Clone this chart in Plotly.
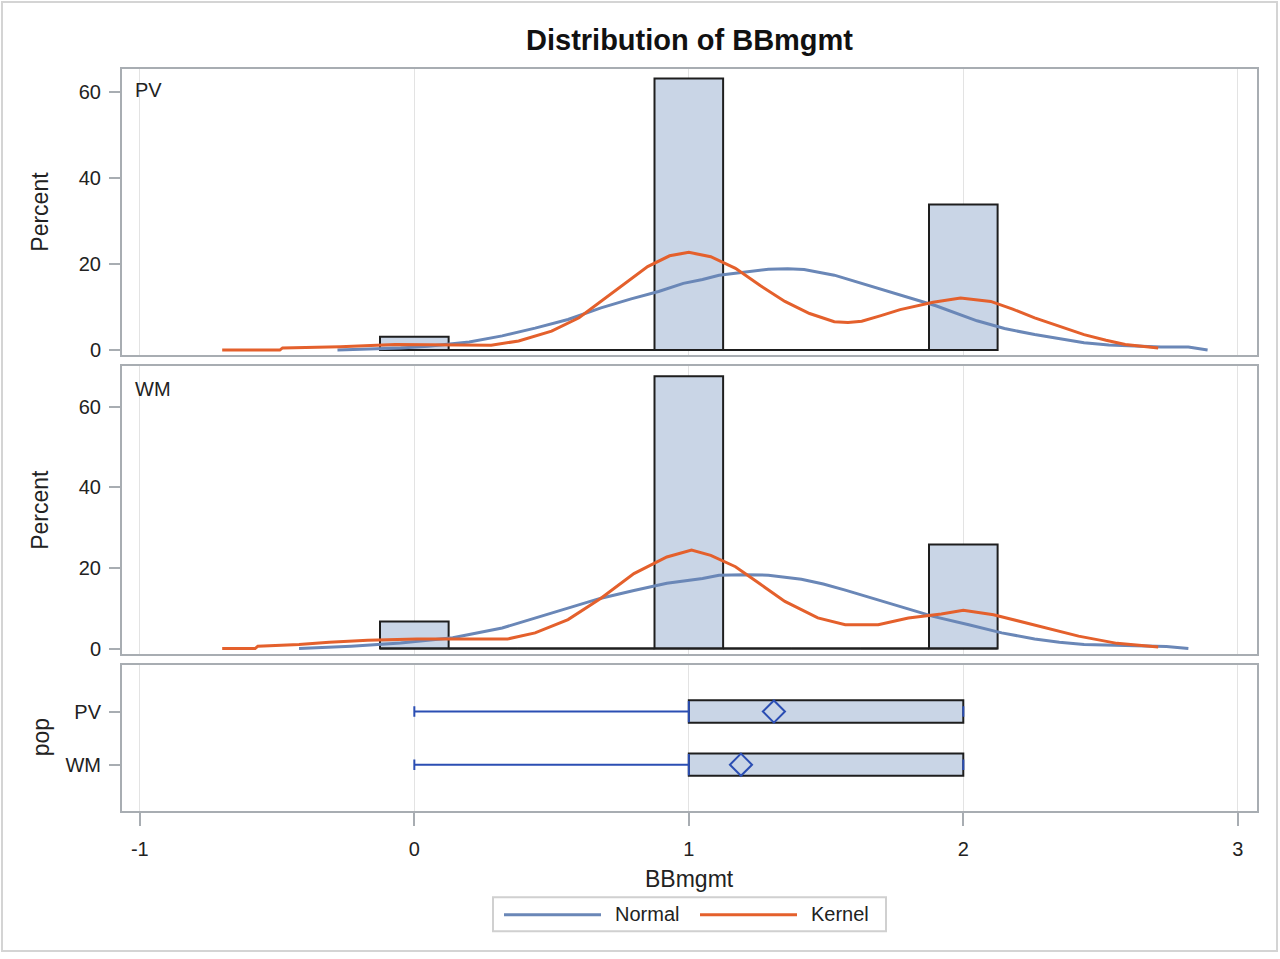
import plotly.graph_objects as go

# ---------------- data ----------------
bin_mid = [0, 0.25, 0.5, 0.75, 1, 1.25, 1.5, 1.75, 2]
bin_width = 0.25
pv_pct = [3.1, 0, 0, 0, 63.1, 0, 0, 0, 33.8]
wm_pct = [6.7, 0, 0, 0, 67.5, 0, 0, 0, 25.8]

pv_normal_x = [-0.28, -0.15, -0.05, 0.05, 0.20, 0.32, 0.44, 0.56, 0.68, 0.79, 0.89, 0.98,
               1.05, 1.11, 1.17, 1.23, 1.29, 1.36, 1.42, 1.53, 1.65, 1.77, 1.90, 2.05,
               2.15, 2.26, 2.35, 2.44, 2.53, 2.62, 2.72, 2.82, 2.89]
pv_normal_y = [0.0, 0.2, 0.5, 0.9, 1.9, 3.3, 5.1, 7.1, 9.8, 11.9, 13.6, 15.5,
               16.4, 17.4, 17.9, 18.4, 18.8, 18.9, 18.7, 17.4, 15.1, 12.8, 10.3, 6.8,
               5.0, 3.6, 2.6, 1.7, 1.2, 0.9, 0.7, 0.7, 0.0]

pv_kernel_x = [-0.70, -0.49, -0.48, -0.27, -0.07, 0.14, 0.28, 0.38, 0.50, 0.60, 0.73, 0.85,
               0.93, 1.00, 1.08, 1.17, 1.26, 1.35, 1.44, 1.53, 1.58, 1.63, 1.70, 1.77,
               1.89, 1.99, 2.10, 2.18, 2.26, 2.35, 2.44, 2.52, 2.59, 2.71]
pv_kernel_y = [0.0, 0.0, 0.5, 0.8, 1.3, 1.3, 1.15, 2.1, 4.4, 7.5, 13.6, 19.4,
               21.9, 22.7, 21.7, 19.0, 15.0, 11.3, 8.5, 6.6, 6.4, 6.7, 8.0, 9.4,
               11.1, 12.1, 11.3, 9.5, 7.5, 5.5, 3.6, 2.3, 1.3, 0.5]

wm_normal_x = [-0.42, -0.23, -0.05, 0.14, 0.32, 0.44, 0.56, 0.68, 0.80, 0.92, 1.05, 1.11,
               1.20, 1.29, 1.41, 1.49, 1.57, 1.65, 1.77, 1.89, 2.02, 2.14, 2.26, 2.35,
               2.44, 2.53, 2.62, 2.74, 2.82]
wm_normal_y = [0.0, 0.6, 1.4, 2.7, 5.1, 7.6, 10.0, 12.5, 14.4, 16.2, 17.4, 18.2,
               18.3, 18.2, 17.2, 16.0, 14.5, 12.9, 10.4, 8.0, 5.9, 3.9, 2.4, 1.6,
               1.0, 0.8, 0.6, 0.5, 0.0]

wm_kernel_x = [-0.70, -0.58, -0.57, -0.42, -0.31, -0.17, 0.01, 0.20, 0.34, 0.44, 0.56, 0.68,
               0.80, 0.92, 1.01, 1.08, 1.17, 1.26, 1.35, 1.47, 1.57, 1.69, 1.80, 1.92,
               2.00, 2.11, 2.26, 2.42, 2.56, 2.71]
wm_kernel_y = [0.0, 0.0, 0.6, 1.0, 1.6, 2.1, 2.4, 2.4, 2.4, 3.9, 7.2, 12.5,
               18.6, 22.7, 24.4, 23.1, 20.3, 16.0, 11.7, 7.6, 5.9, 5.9, 7.6, 8.6,
               9.5, 8.4, 5.9, 3.1, 1.3, 0.4]

# box plot summary per population
pops = ["PV", "WM"]
pop_pos = [1, 0]
box_min = [0, 0]
box_q1 = [1, 1]
box_median = [1, 1]
box_q3 = [2, 2]
box_max = [2, 2]
box_mean = [1.31, 1.19]

x_ticks = [-1, 0, 1, 2, 3]
x_tick_text = ["-1", "0", "1", "2", "3"]
pct_ticks = [0, 20, 40, 60]

# ---------------- styles ----------------
FONT = "Liberation Sans, Arial, sans-serif"
TXT = "#222222"
FRAME = "#A8ADB2"
GRID = "#E3E3E3"
BAR_FILL = "#C9D5E6"
OUTLINE = "#1E1E1E"
NORMAL_C = "#6A87B7"
KERNEL_C = "#E4602C"
BOX_BLUE = "#2B4EB3"

W, H = 1280, 959
def py(px):
    return 1 - px / H

x_dom = [122 / W, 1257 / W]
x_range = [-1.065, 3.07]

fig = go.Figure()

def add_hist(pct, nx, ny, kx, ky, xa, ya):
    fig.add_trace(go.Bar(x=bin_mid, y=pct, width=[bin_width] * len(bin_mid),
                         marker=dict(color=BAR_FILL, line=dict(color=OUTLINE, width=2)),
                         xaxis=xa, yaxis=ya, showlegend=False, hoverinfo="x+y"))
    # outline of the empty bins along the baseline
    fig.add_trace(go.Scatter(x=[bin_mid[0] - bin_width / 2, bin_mid[-1] + bin_width / 2], y=[0, 0],
                             mode="lines", line=dict(color=OUTLINE, width=2),
                             xaxis=xa, yaxis=ya, showlegend=False, hoverinfo="skip"))
    fig.add_trace(go.Scatter(x=nx, y=ny, mode="lines", name="Normal",
                             line=dict(color=NORMAL_C, width=3),
                             xaxis=xa, yaxis=ya, showlegend=False))
    fig.add_trace(go.Scatter(x=kx, y=ky, mode="lines", name="Kernel",
                             line=dict(color=KERNEL_C, width=3),
                             xaxis=xa, yaxis=ya, showlegend=False))

add_hist(pv_pct, pv_normal_x, pv_normal_y, pv_kernel_x, pv_kernel_y, "x", "y")
add_hist(wm_pct, wm_normal_x, wm_normal_y, wm_kernel_x, wm_kernel_y, "x2", "y2")

# ---- box plot panel ----
cap = 0.1
wx, wy = [], []
for lo, q1, q3, hi, p in zip(box_min, box_q1, box_q3, box_max, pop_pos):
    wx += [lo, q1, None, lo, lo, None, q3, hi, None, hi, hi, None]
    wy += [p, p, None, p - cap, p + cap, None, p, p, None, p - cap, p + cap, None]
fig.add_trace(go.Bar(y=pop_pos, x=[b - a for a, b in zip(box_q1, box_q3)], base=box_q1,
                     orientation="h", width=0.42,
                     marker=dict(color=BAR_FILL, line=dict(color=OUTLINE, width=2)),
                     xaxis="x3", yaxis="y3", showlegend=False))
fig.add_trace(go.Scatter(x=wx, y=wy, mode="lines", line=dict(color=BOX_BLUE, width=2),
                         xaxis="x3", yaxis="y3", showlegend=False, hoverinfo="skip"))
mx, my = [], []
for m, p in zip(box_median, pop_pos):
    mx += [m, m, None]
    my += [p - 0.2, p + 0.2, None]
fig.add_trace(go.Scatter(x=mx, y=my, mode="lines", line=dict(color=BOX_BLUE, width=2),
                         xaxis="x3", yaxis="y3", showlegend=False, hoverinfo="skip"))
fig.add_trace(go.Scatter(x=box_mean, y=pop_pos, mode="markers",
                         marker=dict(symbol="diamond-open", size=17, color=BOX_BLUE,
                                     line=dict(width=2, color=BOX_BLUE)),
                         xaxis="x3", yaxis="y3", showlegend=False))

# ---------------- axes ----------------
xcommon = dict(range=x_range, domain=x_dom, tickvals=x_ticks, ticktext=x_tick_text,
               showgrid=True, gridcolor=GRID, gridwidth=1, zeroline=False, showline=True,
               linecolor=FRAME, linewidth=2, mirror=True)
ycommon = dict(showgrid=False, zeroline=False, showline=True, linecolor=FRAME, linewidth=2,
               mirror=True, ticks="outside", ticklen=11, tickcolor=FRAME, tickwidth=2,
               tickfont=dict(family=FONT, size=20, color=TXT), ticklabelstandoff=4)

fig.update_layout(
    width=W, height=H, autosize=False,
    margin=dict(l=0, r=0, t=0, b=0),
    paper_bgcolor="white", plot_bgcolor="white",
    barmode="overlay",
    font=dict(family=FONT, color=TXT),
    xaxis=dict(**xcommon, anchor="y", showticklabels=False),
    xaxis2=dict(**xcommon, anchor="y2", matches="x", showticklabels=False),
    xaxis3=dict(**xcommon, anchor="y3", matches="x", ticks="outside", ticklen=13,
                tickcolor=FRAME, tickwidth=2, ticklabelstandoff=6,
                tickfont=dict(family=FONT, size=20, color=TXT)),
    yaxis=dict(**ycommon, anchor="x", domain=[py(357.7), py(69)], range=[-1.25, 65.4],
               tickvals=pct_ticks),
    yaxis2=dict(**ycommon, anchor="x2", domain=[py(658.3), py(368.5)], range=[-1.38, 70.0],
                tickvals=pct_ticks),
    yaxis3=dict(**ycommon, anchor="x3", domain=[py(816), py(669)], range=[-0.869, 1.879],
                tickvals=pop_pos, ticktext=pops),
)

def note(text, xpx, ypx, size, xanchor="center", angle=0, color=TXT):
    return dict(text=text, x=xpx / W, y=py(ypx), xref="paper", yref="paper",
                xanchor=xanchor, yanchor="middle", textangle=angle, showarrow=False,
                font=dict(family=FONT, size=size, color=color))

ann = [
    note("<b>Distribution of BBmgmt</b>", 689.5, 40, 29, color="#111111"),
    note("BBmgmt", 689.5, 885, 23),
    note("Percent", 40, 213, 23, angle=-90),
    note("Percent", 40, 513, 23, angle=-90),
    note("pop", 41, 742, 23, angle=-90),
    note("PV", 133, 91, 20, xanchor="left"),
    note("WM", 133, 391, 20, xanchor="left"),
    note("Normal", 613, 920, 20, xanchor="left"),
    note("Kernel", 809, 920, 20, xanchor="left"),
]

# frame and legend
shapes = [
    dict(type="rect", xref="paper", yref="paper", x0=2 / W, x1=1277 / W, y0=py(957), y1=py(2),
         line=dict(color="#D4D4D4", width=2)),
    dict(type="rect", xref="paper", yref="paper", x0=493 / W, x1=886 / W, y0=py(937), y1=py(903),
         line=dict(color="#D0D0D0", width=2)),
    dict(type="line", xref="paper", yref="paper", x0=504 / W, x1=601 / W, y0=py(920.5),
         y1=py(920.5), line=dict(color=NORMAL_C, width=3)),
    dict(type="line", xref="paper", yref="paper", x0=700 / W, x1=797 / W, y0=py(920.5),
         y1=py(920.5), line=dict(color=KERNEL_C, width=3)),
]

fig.update_layout(annotations=ann, shapes=shapes)
fig.write_html("out.html")
